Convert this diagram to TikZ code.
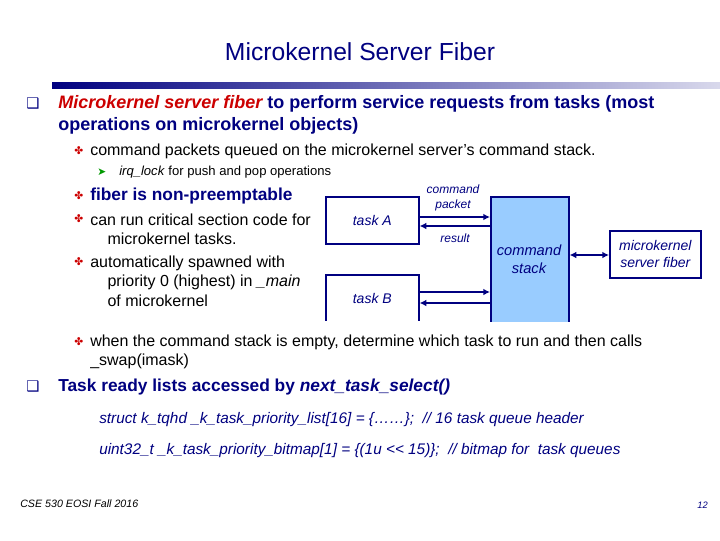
\documentclass[tikz,border=0pt]{standalone}
\usepackage{fontspec}
\setmainfont{Liberation Sans}
\newfontfamily\dejavu{DejaVu Sans}
\usetikzlibrary{arrows.meta}
\definecolor{navy}{RGB}{0,0,128}
\definecolor{dred}{RGB}{204,0,0}
\definecolor{stackblue}{RGB}{153,204,255}
\definecolor{dgreen}{RGB}{0,153,0}
\begin{document}
\begin{tikzpicture}[x=0.75pt,y=-0.75pt,
  box/.style={draw=navy,line width=1.2pt,fill=white},
  lbl/.style={font=\itshape\fontsize{10.5}{12.5}\selectfont,text=navy,align=center},
  txt/.style={anchor=west,inner sep=0pt,font=\fontsize{12}{15}\selectfont},
  arr/.style={-{Latex[length=5pt,width=5pt]},draw=navy,line width=1.5pt}]
\useasboundingbox (0,0) rectangle (720,540);
\node[font=\fontsize{18.5}{22}\selectfont,text=navy] (title) at (360,52) {Microkernel Server Fiber};
\shade[left color=navy,right color=navy!15] (52,82) rectangle (720,88);
% bullets
\node[txt,text=navy] (q1) at (26,104) {\dejavu\fontsize{11}{13}\selectfont ❑};
\node[txt,font=\bfseries\fontsize{13.5}{17}\selectfont,text=navy,align=left] (t1) at (58,115) {\textcolor{dred}{\itshape Microkernel server fiber} to perform service requests from tasks (most\\operations on microkernel objects)};
\node[txt,text=dred] (v1) at (74,151) {\dejavu\fontsize{8}{9}\selectfont ✤};
\node[txt] (t2) at (90,151) {command packets queued on the microkernel server's command stack.};
\node[txt,text=dgreen] (a1) at (97,172) {\dejavu\fontsize{8}{9}\selectfont ➤};
\node[txt,font=\fontsize{9.8}{11}\selectfont] (t3) at (119,172) {\textit{irq\_lock} for push and pop operations};
\node[txt,text=dred] (v2) at (74,196) {\dejavu\fontsize{8}{9}\selectfont ✤};
\node[txt,font=\bfseries\fontsize{13}{15}\selectfont,text=navy] (t4) at (90,196) {fiber is non-preemptable};
\node[txt,text=dred] (v3) at (74,219) {\dejavu\fontsize{8}{9}\selectfont ✤};
\node[txt,align=left,font=\fontsize{12}{14.5}\selectfont] (t5) at (90,229) {can run critical section code for\\\hspace*{13pt}microkernel tasks.};
\node[txt,text=dred] (v4) at (74,262) {\dejavu\fontsize{8}{9}\selectfont ✤};
\node[txt,align=left,font=\fontsize{12}{14.5}\selectfont] (t6) at (90,281) {automatically spawned with\\\hspace*{13pt}priority 0 (highest) in \textit{\_main}\\\hspace*{13pt}of microkernel};
% diagram
\node[box,anchor=north west,minimum height=47*0.75pt,minimum width=93*0.75pt] (ta) at (325,196) {};
\node[lbl] at (ta) {task A};
\node[box,anchor=north west,minimum height=48*0.75pt,minimum width=93*0.75pt] (tb) at (325,274) {};
\node[lbl] at (tb) {task B};
\fill[white] (320,321) rectangle (580,330);
\node[box,fill=stackblue,anchor=north west,minimum height=130*0.75pt,minimum width=78*0.75pt] (cs) at (490,196) {};
\node[lbl,font=\itshape\fontsize{11}{13.5}\selectfont] at (529,259) {command\\stack};
\fill[white] (480,322) rectangle (580,335);
\node[box,anchor=north west,minimum height=47*0.75pt,minimum width=91*0.75pt] (fb) at (609,230) {};
\node[lbl,font=\itshape\fontsize{10.5}{12.5}\selectfont] at (fb) {microkernel\\server fiber};
\draw[arr] (ta.east |- 0,217) -- (cs.west |- 0,217);
\draw[arr] (cs.west |- 0,226) -- (ta.east |- 0,226);
\draw[arr] (tb.east |- 0,292) -- (cs.west |- 0,292);
\draw[arr] (cs.west |- 0,303) -- (tb.east |- 0,303);
\draw[arr,{Latex[length=5pt,width=5pt]}-{Latex[length=5pt,width=5pt]}] (cs.east |- 0,255) -- (fb.west |- 0,255);
\node[lbl,font=\itshape\fontsize{9}{11}\selectfont] (cp) at (453,198) {command\\packet};
\node[lbl,font=\itshape\fontsize{9}{11}\selectfont] (rs) at (455,238) {result};
% lower
\node[txt,text=dred] (v5) at (74,342) {\dejavu\fontsize{8}{9}\selectfont ✤};
\node[txt,align=left,font=\fontsize{12}{14.5}\selectfont] (t7) at (90,352) {when the command stack is empty, determine which task to run and then calls\\\_swap(imask)};
\node[txt,text=navy] (q2) at (26,387) {\dejavu\fontsize{11}{13}\selectfont ❑};
\node[txt,font=\bfseries\fontsize{13}{15}\selectfont,text=navy] (t8) at (58,387) {Task ready lists accessed by \textit{next\_task\_select()}};
\node[txt,font=\itshape\fontsize{11.5}{13}\selectfont,text=navy] (t9) at (99,420) {struct k\_tqhd \_k\_task\_priority\_list[16] = \{……\};\ \ // 16 task queue header};
\node[txt,font=\itshape\fontsize{11.5}{13}\selectfont,text=navy] (t10) at (99,451) {uint32\_t \_k\_task\_priority\_bitmap[1] = \{(1u <\kern0pt< 15)\};\ \ // bitmap for\ \ task queues};
\node[txt,font=\itshape\fontsize{8}{10}\selectfont] (ft) at (20,504) {CSE 530 EOSI Fall 2016};
\node[anchor=east,inner sep=0pt,font=\itshape\fontsize{7}{9}\selectfont,text=navy] (pg) at (708,505) {12};
\end{tikzpicture}
\end{document}
